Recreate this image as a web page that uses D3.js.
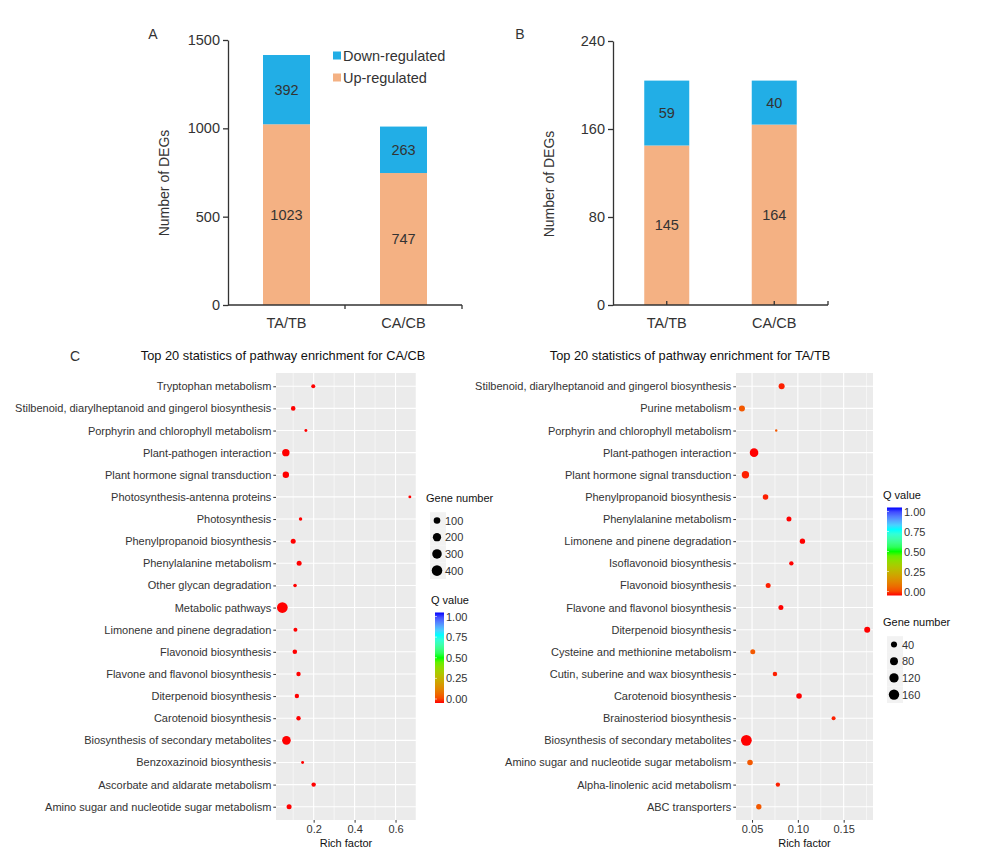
<!DOCTYPE html>
<html>
<head>
<meta charset="utf-8">
<script src="https://cdn.jsdelivr.net/npm/d3@7"></script>
<style>
  body { margin: 0; background: #fff; }
  text { font-family: Arial, "Liberation Sans", sans-serif; }
</style>
</head>
<body>
<svg id="fig"></svg>
<script>
// ---- data ----
const groups = ['TA/TB', 'CA/CB']
const upA = [1023, 747]
const downA = [392, 263]
const upB = [145, 164]
const downB = [59, 40]
const ticksA = [0, 500, 1000, 1500]
const ticksB = [0, 80, 160, 240]
const legendLabels = ['Down-regulated', 'Up-regulated']

const pathwaysCA = ['Tryptophan metabolism', 'Stilbenoid, diarylheptanoid and gingerol biosynthesis',
  'Porphyrin and chlorophyll metabolism', 'Plant-pathogen interaction', 'Plant hormone signal transduction',
  'Photosynthesis-antenna proteins', 'Photosynthesis', 'Phenylpropanoid biosynthesis', 'Phenylalanine metabolism',
  'Other glycan degradation', 'Metabolic pathways', 'Limonene and pinene degradation', 'Flavonoid biosynthesis',
  'Flavone and flavonol biosynthesis', 'Diterpenoid biosynthesis', 'Carotenoid biosynthesis',
  'Biosynthesis of secondary metabolites', 'Benzoxazinoid biosynthesis', 'Ascorbate and aldarate metabolism',
  'Amino sugar and nucleotide sugar metabolism']
const richCA = [0.198, 0.100, 0.162, 0.064, 0.064, 0.670, 0.136, 0.100, 0.129, 0.109,
  0.047, 0.111, 0.108, 0.126, 0.118, 0.126, 0.067, 0.146, 0.200, 0.080]
const genesCA = [18, 29, 10, 143, 90, 10, 12, 39, 39, 13, 410, 18, 29, 25, 25, 25, 223, 10, 25, 39]
const qCA = [0, 0, 0, 0, 0, 0, 0, 0, 0, 0, 0, 0, 0, 0, 0, 0, 0, 0, 0, 0]

const pathwaysTA = ['Stilbenoid, diarylheptanoid and gingerol biosynthesis', 'Purine metabolism',
  'Porphyrin and chlorophyll metabolism', 'Plant-pathogen interaction', 'Plant hormone signal transduction',
  'Phenylpropanoid biosynthesis', 'Phenylalanine metabolism', 'Limonene and pinene degradation',
  'Isoflavonoid biosynthesis', 'Flavonoid biosynthesis', 'Flavone and flavonol biosynthesis',
  'Diterpenoid biosynthesis', 'Cysteine and methionine metabolism', 'Cutin, suberine and wax biosynthesis',
  'Carotenoid biosynthesis', 'Brainosteriod biosynthesis', 'Biosynthesis of secondary metabolites',
  'Amino sugar and nucleotide sugar metabolism', 'Alpha-linolenic acid metabolism', 'ABC transporters']
const richTA = [0.0823, 0.0390, 0.0764, 0.0522, 0.0428, 0.0647, 0.0903, 0.1050, 0.0929, 0.0676,
  0.0815, 0.1757, 0.0508, 0.0750, 0.1013, 0.1390, 0.0438, 0.0478, 0.0782, 0.0574]
const genesTA = [39, 39, 8, 99, 67, 32, 24, 29, 17, 24, 24, 39, 24, 19, 32, 14, 175, 32, 17, 29]
const qTA = [0.01, 0.07, 0.07, 0, 0.01, 0.01, 0, 0, 0, 0.01, 0, 0, 0.07, 0.01, 0, 0.01, 0, 0.07, 0.01, 0.07]

const ticksCA = [0.2, 0.4, 0.6]
const minorCA = [0.1, 0.3, 0.5, 0.7]
const ticksTA = [0.05, 0.10, 0.15]
const minorTA = [0.075, 0.125, 0.175]
const sizeKeysCA = [100, 200, 300, 400]
const sizeKeysTA = [40, 80, 120, 160]
const qTicks = [0, 0.25, 0.5, 0.75, 1]

const blue = '#22aee6', peach = '#f4b183', ink = '#333'

const svg = d3.select('#fig').attr('width', 1000).attr('height', 863)
svg.append('rect').attr('width', 1000).attr('height', 863).attr('fill', '#fff')

// ---------- stacked bars (A, B) ----------
let drawBars = (cfg) => {
  const g = svg.append('g')
  const y = d3.scaleLinear().domain([0, cfg.max]).range([305, cfg.top])
  const x = d3.scaleBand().domain(groups).range([cfg.x0, cfg.x1])
  const cx = d => x(d) + x.bandwidth() / 2

  g.selectAll('.up').data(groups).join('rect')
    .attr('x', d => cx(d) - cfg.barW / 2).attr('width', cfg.barW)
    .attr('y', (d, i) => y(cfg.up[i])).attr('height', (d, i) => y(0) - y(cfg.up[i]))
    .attr('fill', peach)
  g.selectAll('.down').data(groups).join('rect')
    .attr('x', d => cx(d) - cfg.barW / 2).attr('width', cfg.barW)
    .attr('y', (d, i) => y(cfg.up[i] + cfg.down[i]))
    .attr('height', (d, i) => y(cfg.up[i]) - y(cfg.up[i] + cfg.down[i]))
    .attr('fill', blue)

  // value labels centred in each segment
  g.selectAll('.lu').data(groups).join('text')
    .attr('x', cx).attr('y', (d, i) => y(cfg.up[i] / 2) + 5)
    .attr('text-anchor', 'middle').attr('font-size', 14.5).attr('fill', ink)
    .text((d, i) => cfg.up[i])
  g.selectAll('.ld').data(groups).join('text')
    .attr('x', cx).attr('y', (d, i) => y(cfg.up[i] + cfg.down[i] / 2) + 5)
    .attr('text-anchor', 'middle').attr('font-size', 14.5).attr('fill', ink)
    .text((d, i) => cfg.down[i])

  // y axis
  const ya = g.append('g').attr('transform', `translate(${cfg.x0},0)`)
    .call(d3.axisLeft(y).tickValues(cfg.ticks).tickFormat(d3.format('d')).tickSize(5).tickSizeOuter(0))
  ya.selectAll('path,line').attr('stroke', ink).attr('stroke-width', 1.3)
  ya.selectAll('text').attr('font-size', 14.5).attr('fill', ink).attr('font-family', 'Arial, Liberation Sans')

  // x axis
  g.append('line').attr('x1', cfg.x0).attr('x2', cfg.x1).attr('y1', 305).attr('y2', 305)
    .attr('stroke', ink).attr('stroke-width', 1.3)
  g.selectAll('.xt').data(cfg.xTicks(x)).join('line')
    .attr('x1', d => d).attr('x2', d => d).attr('y1', 305).attr('y2', 305 + cfg.tickDir * 4)
    .attr('stroke', ink).attr('stroke-width', 1.3)
  g.selectAll('.xl').data(groups).join('text')
    .attr('x', cx).attr('y', 328).attr('text-anchor', 'middle')
    .attr('font-size', 14.5).attr('fill', ink).text(d => d)

  g.append('text').attr('transform', `translate(${cfg.titleX},${cfg.titleY}) rotate(-90)`)
    .attr('text-anchor', 'middle').attr('font-size', 14).attr('fill', ink).text('Number of DEGs')
  g.append('text').attr('x', cfg.letterX).attr('y', 39).attr('text-anchor', 'middle')
    .attr('font-size', 14).attr('fill', ink).text(cfg.letter)
}

drawBars({ max: 1500, top: 40, x0: 228, x1: 462, barW: 47, up: upA, down: downA, ticks: ticksA,
  xTicks: x => [x(groups[1]), x.range()[1]], tickDir: 1, titleX: 169, titleY: 183, letterX: 153, letter: 'A' })

drawBars({ max: 240, top: 41, x0: 613, x1: 828, barW: 45, up: upB, down: downB, ticks: ticksB,
  xTicks: x => groups.map(d => x(d) + x.bandwidth() / 2).concat([x.range()[1]]), tickDir: -1,
  titleX: 554, titleY: 184, letterX: 520, letter: 'B' })

// legend of panel A
const lg = svg.append('g')
lg.selectAll('rect').data(legendLabels).join('rect')
  .attr('x', 333).attr('y', (d, i) => 51.5 + i * 22).attr('width', 8).attr('height', 8)
  .attr('fill', (d, i) => i === 0 ? blue : peach)
lg.selectAll('text').data(legendLabels).join('text')
  .attr('x', 343).attr('y', (d, i) => 61 + i * 22).attr('font-size', 14.5).attr('fill', ink).text(d => d)

// ---------- bubble plots (C) ----------
const qColor = d3.scaleLinear().domain([0, 0.5, 0.75, 1])
  .range(['#ff0000', '#00ff00', '#00ffff', '#0000ff']).interpolate(d3.interpolateLab)

let sizeScale = (minN, maxN, rMin, rMax) => {
  const norm = d3.scaleLinear().domain([minN, maxN]).range([0, 1]).clamp(true)
  const rad = d3.scaleLinear().domain([0, 1]).range([rMin, rMax])
  return n => rad(Math.sqrt(norm(n)))
}

// shared gradient for the Q value bars
const grad = svg.append('defs').append('linearGradient').attr('id', 'qgrad')
  .attr('x1', 0).attr('x2', 0).attr('y1', 1).attr('y2', 0)
grad.selectAll('stop').data(d3.range(0, 1.0001, 0.05)).join('stop')
  .attr('offset', d => d).attr('stop-color', d => qColor(d))

let drawDots = (cfg) => {
  const g = svg.append('g')
  const x = d3.scaleLinear().domain(cfg.domain).range([cfg.left, cfg.right])
  const y = d3.scalePoint().domain(cfg.paths).range([373, 820]).padding(0.6)
  const r = sizeScale(cfg.minN, cfg.maxN, cfg.rMin, cfg.rMax)

  g.append('rect').attr('x', cfg.left).attr('y', 373).attr('width', cfg.right - cfg.left)
    .attr('height', 447).attr('fill', '#ebebeb')
  g.selectAll('.mn').data(cfg.minor).join('line')
    .attr('x1', x).attr('x2', x).attr('y1', 373).attr('y2', 820).attr('stroke', '#fff').attr('stroke-width', 0.55)
  g.selectAll('.mj').data(cfg.ticks).join('line')
    .attr('x1', x).attr('x2', x).attr('y1', 373).attr('y2', 820).attr('stroke', '#fff').attr('stroke-width', 1.1)
  g.selectAll('.hr').data(cfg.paths).join('line')
    .attr('x1', cfg.left).attr('x2', cfg.right).attr('y1', y).attr('y2', y).attr('stroke', '#fff').attr('stroke-width', 1.1)

  g.selectAll('circle').data(cfg.paths).join('circle')
    .attr('cx', (d, i) => x(cfg.rich[i])).attr('cy', y)
    .attr('r', (d, i) => r(cfg.genes[i])).attr('fill', (d, i) => qColor(cfg.q[i]))

  const ya = g.append('g').attr('transform', `translate(${cfg.left},0)`)
    .call(d3.axisLeft(y).tickSize(2.7).tickPadding(2))
  ya.select('.domain').remove()
  ya.selectAll('line').attr('stroke', ink)
  ya.selectAll('text').attr('font-size', 11).attr('fill', ink).attr('font-family', 'Arial, Liberation Sans')

  const xa = g.append('g').attr('transform', 'translate(0,820)')
    .call(d3.axisBottom(x).tickValues(cfg.ticks).tickFormat(cfg.fmt).tickSize(2.7).tickPadding(2))
  xa.select('.domain').remove()
  xa.selectAll('line').attr('stroke', ink)
  xa.selectAll('text').attr('font-size', 11).attr('fill', ink).attr('font-family', 'Arial, Liberation Sans')

  g.append('text').attr('x', (cfg.left + cfg.right) / 2).attr('y', 847).attr('text-anchor', 'middle')
    .attr('font-size', 11).attr('fill', '#111').text('Rich factor')
  g.append('text').attr('x', cfg.titleX).attr('y', 360).attr('text-anchor', 'middle')
    .attr('font-size', 12.8).attr('fill', '#111').text(cfg.title)

  // size legend
  const sl = g.append('g')
  sl.append('text').attr('x', cfg.sizeLeg.x - 4).attr('y', cfg.sizeLeg.y).attr('font-size', 11)
    .attr('fill', '#111').text('Gene number')
  const keyY = (d, i) => cfg.sizeLeg.y + 18.5 + i * 16.7
  sl.selectAll('rect').data(cfg.sizeKeys).join('rect')
    .attr('x', cfg.sizeLeg.x).attr('y', (d, i) => keyY(d, i) - 8.3).attr('width', 16).attr('height', 16.7)
    .attr('fill', '#f2f2f2')
  sl.selectAll('circle').data(cfg.sizeKeys).join('circle')
    .attr('cx', cfg.sizeLeg.x + 7).attr('cy', keyY).attr('r', d => r(d)).attr('fill', '#000')
  sl.selectAll('text.k').data(cfg.sizeKeys).join('text').attr('class', 'k')
    .attr('x', cfg.sizeLeg.x + 15).attr('y', (d, i) => keyY(d, i) + 4).attr('font-size', 11)
    .attr('fill', ink).text(d => d)

  // Q value legend
  const ql = g.append('g')
  const qy = d3.scaleLinear().domain([0, 1]).range([cfg.qLeg.y0, cfg.qLeg.y1])
  ql.append('text').attr('x', cfg.qLeg.x - 4).attr('y', cfg.qLeg.y1 - 13).attr('font-size', 11)
    .attr('fill', '#111').text('Q value')
  ql.append('rect').attr('x', cfg.qLeg.x).attr('y', cfg.qLeg.y1 - 4).attr('width', cfg.qLeg.w)
    .attr('height', cfg.qLeg.y0 - cfg.qLeg.y1 + 8).attr('fill', 'url(#qgrad)')
  ql.selectAll('line').data(qTicks).join('line')
    .attr('x1', cfg.qLeg.x).attr('x2', cfg.qLeg.x + 2).attr('y1', qy).attr('y2', qy)
    .attr('stroke', '#fff').attr('stroke-width', 0.6)
  ql.selectAll('text.q').data(qTicks).join('text').attr('class', 'q')
    .attr('x', cfg.qLeg.x + cfg.qLeg.w + 2).attr('y', d => qy(d) + 4).attr('font-size', 11)
    .attr('fill', ink).text(d => d3.format('.2f')(d))
}

drawDots({ paths: pathwaysCA, rich: richCA, genes: genesCA, q: qCA, domain: [0.016, 0.70],
  left: 276, right: 416, ticks: ticksCA, minor: minorCA, fmt: d3.format('.1f'),
  minN: 10, maxN: 420, rMin: 1.45, rMax: 5.4, sizeKeys: sizeKeysCA,
  title: 'Top 20 statistics of pathway enrichment for CA/CB', titleX: 283,
  sizeLeg: { x: 430, y: 502 }, qLeg: { x: 435, w: 9, y0: 699, y1: 616.5 } })

drawDots({ paths: pathwaysTA, rich: richTA, genes: genesTA, q: qTA, domain: [0.0325, 0.182],
  left: 736, right: 873, ticks: ticksTA, minor: minorTA, fmt: d3.format('.2f'),
  minN: 8, maxN: 175, rMin: 1.2, rMax: 5.4, sizeKeys: sizeKeysTA,
  title: 'Top 20 statistics of pathway enrichment for TA/TB', titleX: 690,
  sizeLeg: { x: 887, y: 626 }, qLeg: { x: 887, w: 15, y0: 591.5, y1: 511.5 } })

svg.append('text').attr('x', 75).attr('y', 361).attr('text-anchor', 'middle')
  .attr('font-size', 14).attr('fill', ink).text('C')
</script>
</body>
</html>
